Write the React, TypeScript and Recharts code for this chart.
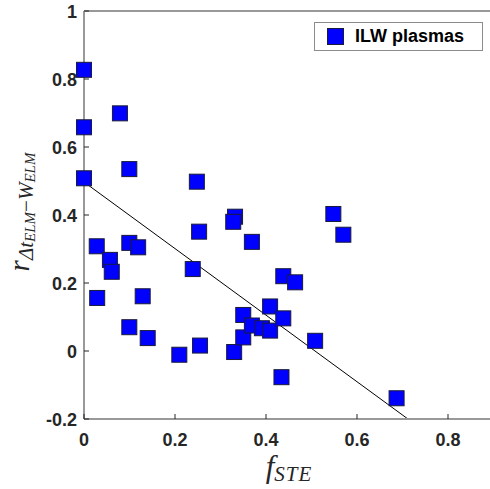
import React from 'react';
import { ScatterChart, Scatter, XAxis, YAxis, ReferenceLine, Legend } from 'recharts';

// f_STE values (x) and the matching correlation coefficients (y)
const fSte = [
  0, 0.079, 0, 0.0996, 0, 0.248, 0.253, 0.332, 0.328, 0.028, 0.0996, 0.119, 0.057,
  0.061, 0.239, 0.029, 0.129, 0.0996, 0.14, 0.2095, 0.255, 0.33, 0.35, 0.35, 0.369,
  0.391, 0.409, 0.409, 0.438, 0.438, 0.464, 0.369, 0.548, 0.57, 0.508, 0.434, 0.687,
];
const rCorr = [
  0.827, 0.699, 0.658, 0.535, 0.508, 0.498, 0.351, 0.395, 0.38, 0.308, 0.318, 0.305, 0.268,
  0.233, 0.241, 0.156, 0.161, 0.07, 0.038, -0.011, 0.016, -0.003, 0.106, 0.04, 0.075,
  0.067, 0.06, 0.131, 0.096, 0.22, 0.202, 0.321, 0.403, 0.342, 0.03, -0.077, -0.139,
];

const xTicks = [0, 0.2, 0.4, 0.6, 0.8];
const yTicks = [-0.2, 0, 0.2, 0.4, 0.6, 0.8, 1];

// linear fit end points
const fitX = [0, 0.712];
const fitY = [0.497, -0.2];

const data = fSte.map((x, i) => ({ x, y: rCorr[i] }));

const tickFont = {
  fontFamily: 'Liberation Sans, Arial, sans-serif',
  fontWeight: 700,
  fontSize: 18,
  fill: '#262626',
};
const mathFont = 'Liberation Serif, Times New Roman, serif';

const BottomTick = (props: any) => {
  const { x, y, payload } = props;
  return (
    <g>
      <line x1={x} y1={y} x2={x} y2={y - 5} stroke="#262626" strokeWidth={1} />
      <text x={x} y={y + 27} textAnchor="middle" {...tickFont}>
        {String(payload.value)}
      </text>
    </g>
  );
};

const LeftTick = (props: any) => {
  const { x, y, payload } = props;
  return (
    <g>
      <line x1={x} y1={y} x2={x + 5} y2={y} stroke="#262626" strokeWidth={1} />
      <text x={x - 7} y={y + 6.5} textAnchor="end" {...tickFont}>
        {String(payload.value)}
      </text>
    </g>
  );
};

const TopTick = (props: any) => {
  const { x, y } = props;
  return <line x1={x} y1={y} x2={x} y2={y + 5} stroke="#262626" strokeWidth={1} />;
};

const RightTick = (props: any) => {
  const { x, y } = props;
  return <line x1={x} y1={y} x2={x - 5} y2={y} stroke="#262626" strokeWidth={1} />;
};

const Square = (props: any) => {
  const { cx, cy } = props;
  if (cx == null || cy == null) return null;
  return <rect x={cx - 7.5} y={cy - 7.5} width={15} height={15} fill="#0000ff" stroke="#1a1a3a" strokeWidth={1} />;
};

const XLabel = () => (
  <text x={289} y={477} textAnchor="middle" fontFamily={mathFont} fontStyle="italic" fill="#262626">
    <tspan fontSize={31}>f</tspan>
    <tspan fontSize={21} dy={4} letterSpacing={1}>STE</tspan>
  </text>
);

const YLabel = () => (
  <text
    x={0}
    y={0}
    transform="translate(29,212) rotate(-90)"
    textAnchor="middle"
    fontFamily={mathFont}
    fontStyle="italic"
    fill="#262626"
  >
    <tspan fontSize={29}>r</tspan>
    <tspan fontSize={21} dy={4}>Δt</tspan>
    <tspan fontSize={15} dy={2}>ELM</tspan>
    <tspan fontSize={21} dy={-2} fontStyle="normal">−</tspan>
    <tspan fontSize={21}>W</tspan>
    <tspan fontSize={15} dy={2}>ELM</tspan>
  </text>
);

const LegendBox = () => (
  <div
    style={{
      width: 167,
      height: 27,
      border: '1px solid #8c8c8c',
      background: '#fff',
      display: 'flex',
      alignItems: 'center',
      boxSizing: 'content-box',
    }}
  >
    <div
      style={{
        width: 15,
        height: 15,
        background: '#0000ff',
        border: '1px solid #1a1a3a',
        marginLeft: 12,
        marginRight: 11,
      }}
    />
    <span style={{ fontFamily: tickFont.fontFamily, fontWeight: 700, fontSize: 18, color: '#000' }}>
      ILW plasmas
    </span>
  </div>
);

export default function App() {
  return (
    <div style={{ position: 'absolute', left: 0, top: 0, width: 490, height: 489, overflow: 'hidden', background: '#fff' }}>
      <ScatterChart width={500} height={489} margin={{ top: 10, right: 5.5, bottom: 69, left: 83 }}>
        <XAxis
          type="number"
          dataKey="x"
          domain={[0, 0.9]}
          ticks={xTicks}
          height={1}
          tickSize={0}
          tickMargin={0}
          tickLine={false}
          tick={<BottomTick />}
          axisLine={{ stroke: '#999', strokeWidth: 2 }}
          label={<XLabel />}
        />
        <XAxis
          xAxisId="top"
          orientation="top"
          type="number"
          domain={[0, 0.9]}
          ticks={xTicks}
          height={1}
          tickSize={0}
          tickMargin={0}
          tickLine={false}
          tick={<TopTick />}
          axisLine={{ stroke: '#333', strokeWidth: 1 }}
        />
        <YAxis
          type="number"
          dataKey="y"
          domain={[-0.2, 1]}
          ticks={yTicks}
          width={1}
          tickSize={0}
          tickMargin={0}
          tickLine={false}
          tick={<LeftTick />}
          axisLine={{ stroke: '#999', strokeWidth: 2 }}
          label={<YLabel />}
        />
        <YAxis
          yAxisId="right"
          orientation="right"
          type="number"
          domain={[-0.2, 1]}
          ticks={yTicks}
          width={1}
          tickSize={0}
          tickMargin={0}
          tickLine={false}
          tick={<RightTick />}
          axisLine={{ stroke: '#333', strokeWidth: 1 }}
        />
        <Legend
          layout="vertical"
          align="center"
          verticalAlign="middle"
          wrapperStyle={{ position: 'absolute', left: 314, top: 22, width: 'auto' }}
          content={<LegendBox />}
        />
        <Scatter name="ILW plasmas" data={data} shape={<Square />} isAnimationActive={false} />
        <ReferenceLine
          segment={[
            { x: fitX[0], y: fitY[0] },
            { x: fitX[1], y: fitY[1] },
          ]}
          stroke="#000"
          strokeWidth={1}
        />
      </ScatterChart>
    </div>
  );
}
